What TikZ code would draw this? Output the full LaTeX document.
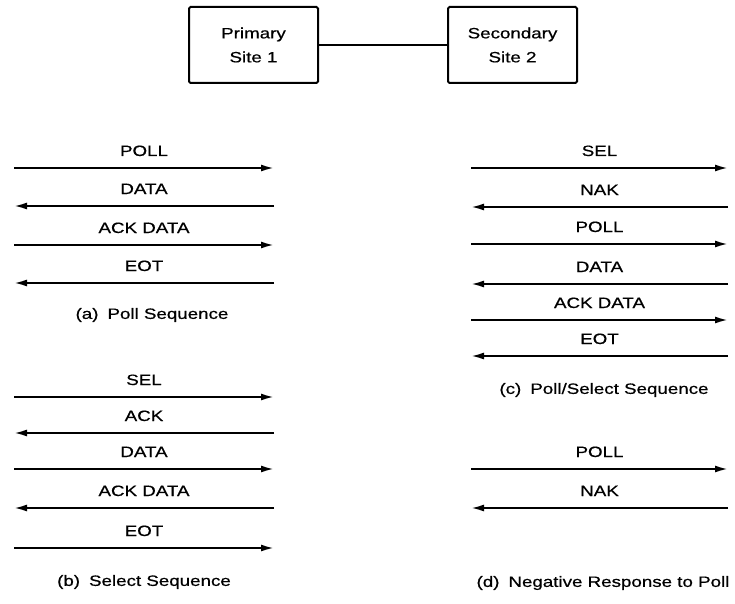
\documentclass[tikz,border=0pt]{standalone}
\usepackage{fontspec}
\setmainfont{Liberation Sans}[FakeStretch=1.25,FakeBold=0.6]
\usetikzlibrary{arrows.meta,positioning}
\tikzset{
  site/.style={draw,line width=2pt,rounded corners=1.5pt,minimum width=129pt,minimum height=76pt,align=center,inner sep=0pt,font=\fontsize{15pt}{24pt}\selectfont},
  link/.style={line width=1.8pt},
  msg/.style={-{Latex[length=13pt,width=7pt]},line width=2pt},
  lbl/.style={midway,above=11pt,inner sep=0pt,text depth=0pt},
  caption/.style={inner sep=0pt}
}

\begin{document}
\begin{tikzpicture}[x=1pt,y=-1pt,font=\fontsize{15pt}{22pt}\selectfont]
\useasboundingbox (0,0) rectangle (735,604);
% the two stations on the line
\node[site] (prim) at (253.5,45) {Primary\\Site 1};
\node[site] (sec) at (512.5,45) {Secondary\\Site 2};
\draw[link] (prim) -- (sec);

% end points of the message lines
\foreach \n/\y in {1/168,2/206,3/245,4/283} {\coordinate (a\n l) at (14,\y); \coordinate (a\n r) at (274,\y);}
\foreach \n/\y in {1/397,2/433,3/469,4/508,5/548} {\coordinate (b\n l) at (14,\y); \coordinate (b\n r) at (274,\y);}
\foreach \n/\y in {1/168,2/207,3/244,4/284,5/320,6/356} {\coordinate (c\n l) at (471,\y); \coordinate (c\n r) at (728,\y);}
\foreach \n/\y in {1/469,2/508} {\coordinate (d\n l) at (471,\y); \coordinate (d\n r) at (728,\y);}

% (a) poll
\draw[msg] (a1l) -- node[lbl] (aPoll) {POLL} (a1r);
\draw[msg] (a2r) -- node[lbl] (aData) {DATA} (a2l);
\draw[msg] (a3l) -- node[lbl] (aAck) {ACK DATA} (a3r);
\draw[msg] (a4r) -- node[lbl] (aEot) {EOT} (a4l);
\node[caption] (capA) at (152,315) {(a)\hspace{9pt}Poll Sequence};

% (b) select
\draw[msg] (b1l) -- node[lbl] (bSel) {SEL} (b1r);
\draw[msg] (b2r) -- node[lbl] (bAck) {ACK} (b2l);
\draw[msg] (b3l) -- node[lbl] (bData) {DATA} (b3r);
\draw[msg] (b4r) -- node[lbl] (bAckData) {ACK DATA} (b4l);
\draw[msg] (b5l) -- node[lbl] (bEot) {EOT} (b5r);
\node[caption] (capB) at (144,582) {(b)\hspace{9pt}Select Sequence};

% (c) poll/select
\draw[msg] (c1l) -- node[lbl] (cSel) {SEL} (c1r);
\draw[msg] (c2r) -- node[lbl] (cNak) {NAK} (c2l);
\draw[msg] (c3l) -- node[lbl] (cPoll) {POLL} (c3r);
\draw[msg] (c4r) -- node[lbl] (cData) {DATA} (c4l);
\draw[msg] (c5l) -- node[lbl] (cAck) {ACK DATA} (c5r);
\draw[msg] (c6r) -- node[lbl] (cEot) {EOT} (c6l);
\node[caption] (capC) at (604,390) {(c)\hspace{9pt}Poll/Select Sequence};

% (d) negative response
\draw[msg] (d1l) -- node[lbl] (dPoll) {POLL} (d1r);
\draw[msg] (d2r) -- node[lbl] (dNak) {NAK} (d2l);
\node[caption] (capD) at (603,583) {(d)\hspace{9pt}Negative Response to Poll};
\end{tikzpicture}
\end{document}
